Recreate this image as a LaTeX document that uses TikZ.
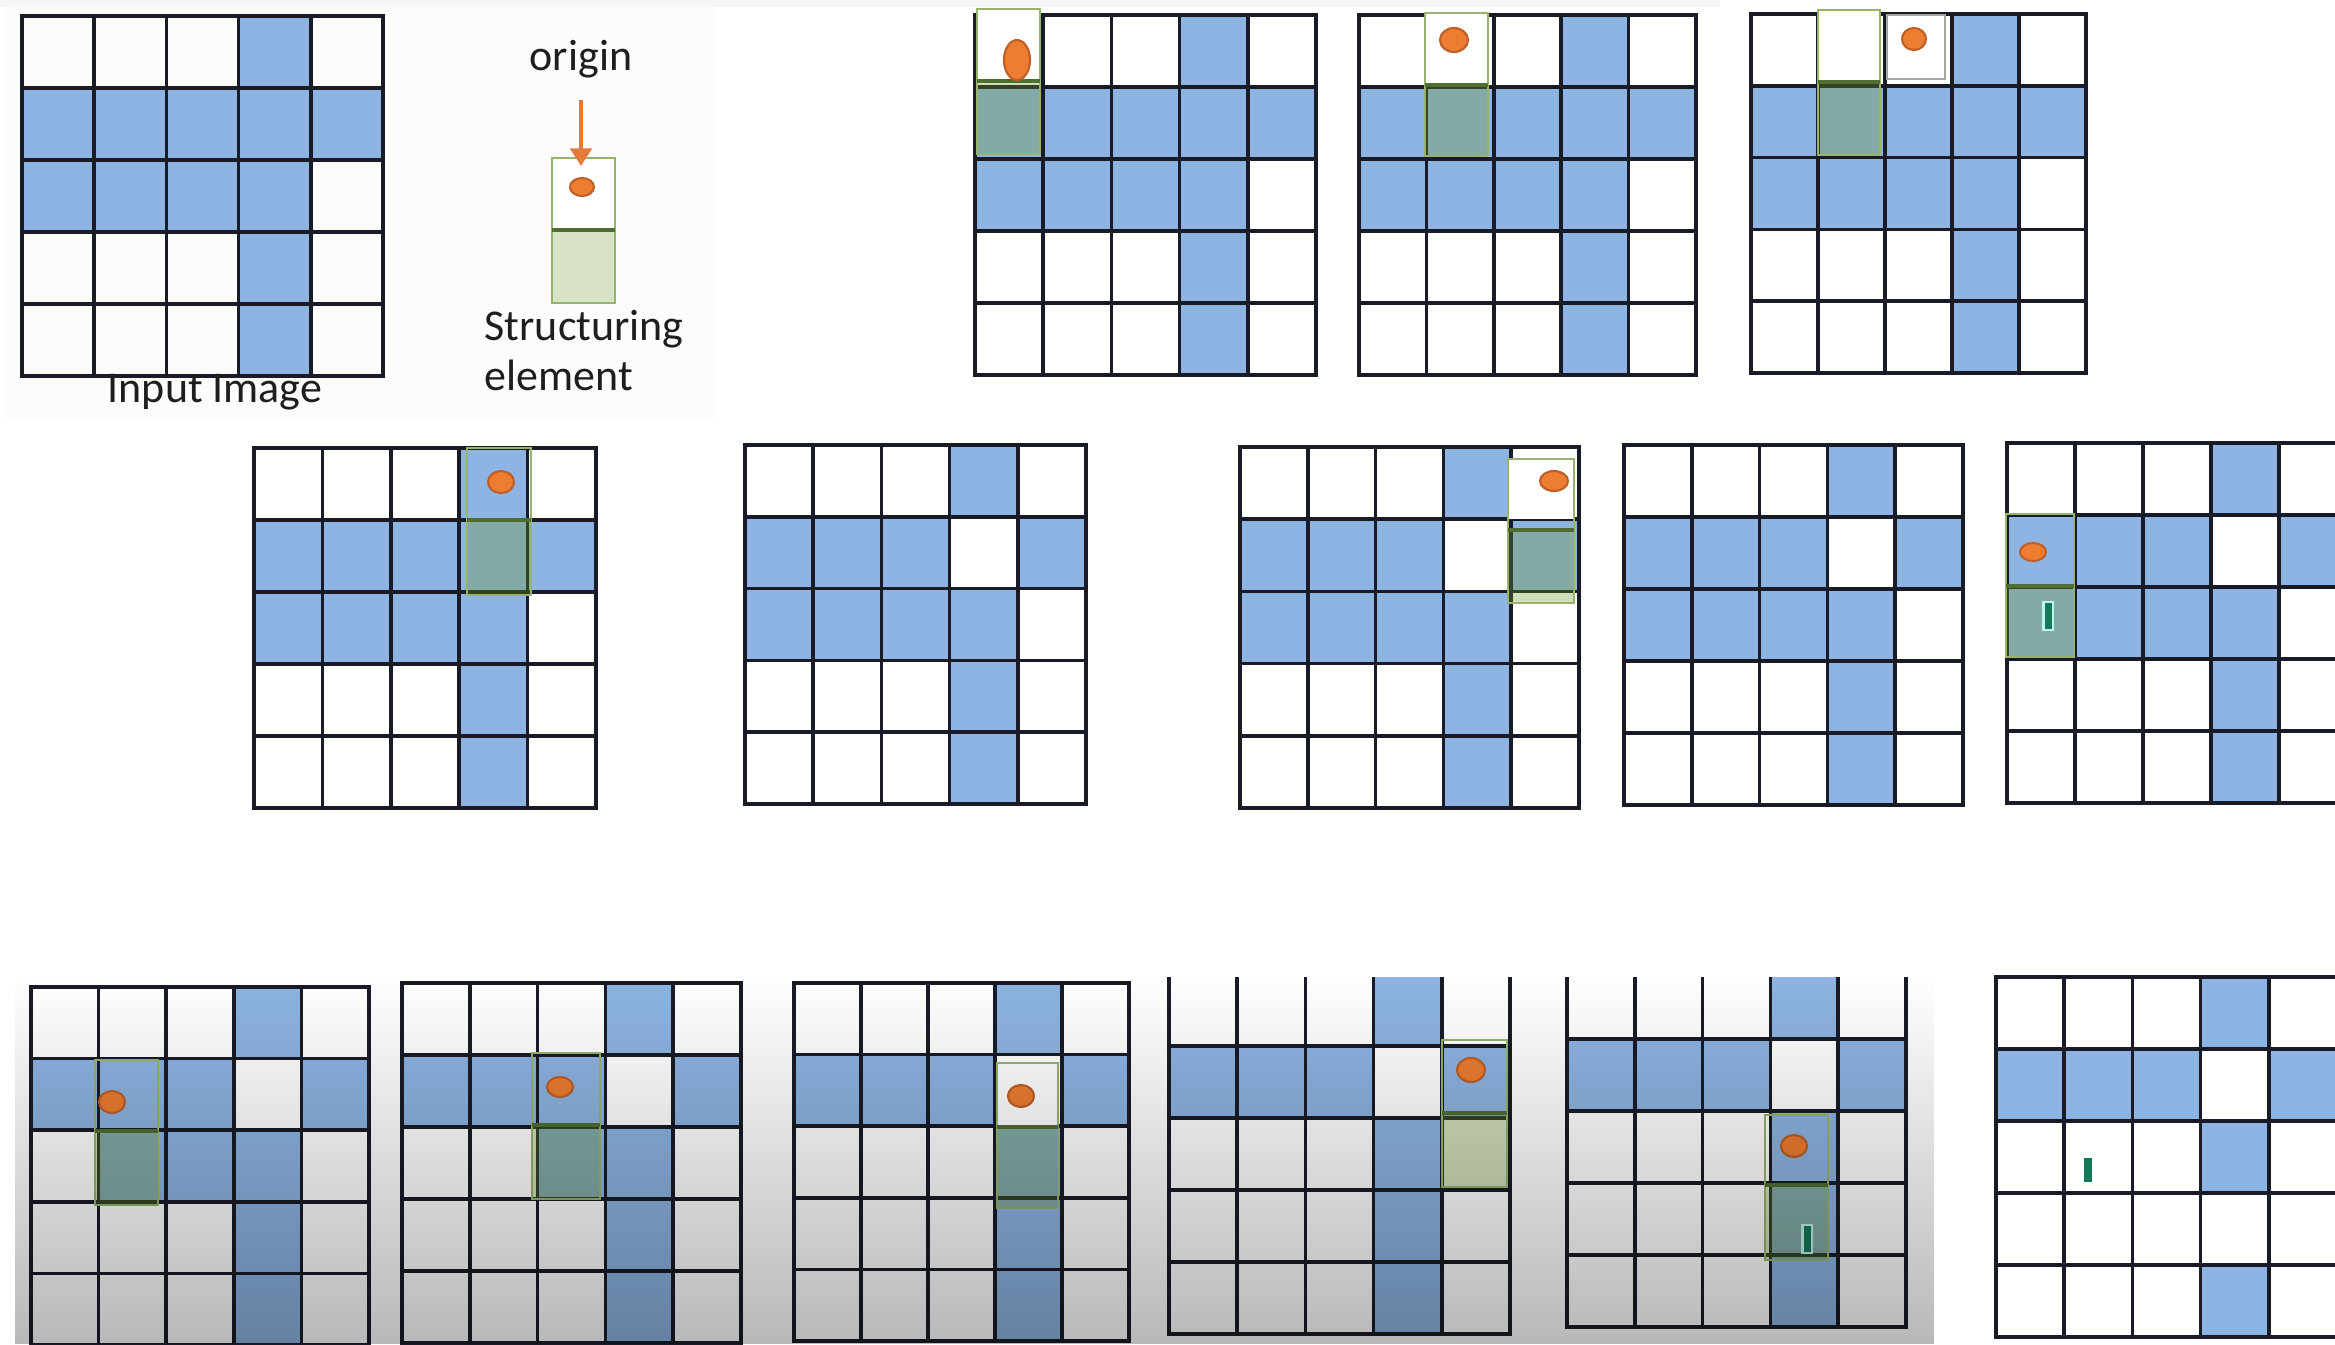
\documentclass[tikz,border=0pt]{standalone}
\usepackage{fontspec}
\setmainfont{Carlito}
\usetikzlibrary{arrows.meta,fadings}
\definecolor{cellblue}{RGB}{141,180,226}
\definecolor{gridc}{RGB}{25,28,38}
\definecolor{seedge}{RGB}{150,180,110}
\definecolor{sedark}{RGB}{80,110,50}
\definecolor{setint}{RGB}{110,150,40}
\definecolor{dotfill}{RGB}{237,125,49}
\definecolor{dotedge}{RGB}{190,95,40}
\definecolor{barc}{RGB}{20,120,90}
\definecolor{barglow}{RGB}{190,245,235}
\definecolor{txt}{RGB}{30,30,30}
\definecolor{arrowc}{RGB}{226,122,58}
\tikzset{
  gridline/.style={draw=gridc, line width=1pt, line cap=rect},
  seframe/.style={draw=seedge, line width=0.6pt},
  sediv/.style={draw=sedark, line width=1.1pt},
  setintfill/.style={fill=setint, opacity=0.32},
  dotstyle/.style={fill=dotfill, draw=dotedge, line width=0.6pt},
  lbl/.style={text=txt, font=\fontsize{12.5pt}{15pt}\selectfont, inner sep=0pt},
  origarrow/.style={draw=arrowc, line width=1.4pt, -{Triangle[length=5pt,width=6pt]}}
}
% grid: x0 y0 x1 y1 {list of row/col blue cells}
\newcommand\cellgrid[5]{%
  \pgfmathsetmacro\cgW{(#3-#1)/5}%
  \pgfmathsetmacro\cgH{(#4-#2)/5}%
  \foreach \ri/\ci in {#5}{%
    \fill[cellblue] ({#1+\ci*\cgW},{#2+\ri*\cgH}) rectangle ({#1+(\ci+1)*\cgW},{#2+(\ri+1)*\cgH});}%
  \foreach \ii in {0,...,5}{%
    \draw[gridline] ({#1+\ii*\cgW},#2) -- ({#1+\ii*\cgW},#4);
    \draw[gridline] (#1,{#2+\ii*\cgH}) -- (#3,{#2+\ii*\cgH});}%
}
% structuring element: x0 x1 ytop ymid ybot
\newcommand\secell[5]{%
  \fill[setintfill] (#1,#4) rectangle (#2,#5);
  \draw[seframe] (#1,#3) rectangle (#2,#5);
  \draw[sediv] (#1,#4) -- (#2,#4);
}
\newcommand\secellw[5]{%
  \fill[white] (#1,#3) rectangle (#2,#4);
  \secell{#1}{#2}{#3}{#4}{#5}%
}
\newcommand\origindot[4]{\fill[dotstyle] (#1,#2) ellipse [x radius=#3, y radius=#4];}
\newcommand\cursorbar[2]{%
  \fill[barglow] ({#1-6},{#2-15}) rectangle ({#1+6},{#2+15});
  \fill[barc] ({#1-3.5},{#2-13}) rectangle ({#1+3.5},{#2+13});
}
\begin{document}
\begin{tikzpicture}[x=0.01cm, y=-0.01cm]
\useasboundingbox (0,0) rectangle (2335,1344);
\clip (0,0) rectangle (2335,1344);
\fill[white] (0,0) rectangle (2335,1344);
\fill[black!4] (0,0) rectangle (1720,7);
\fill[black!1] (5,7) rectangle (715,418);

% ---------- Row 1 ----------
\cellgrid{22}{16}{383}{376}{0/3,1/0,1/1,1/2,1/3,1/4,2/0,2/1,2/2,2/3,3/3,4/3}
\node[lbl, anchor=base] (inputlbl) at (215,402) {Input Image};

% structuring element legend
\node[lbl, anchor=base] (orig) at (581,70) {origin};
\fill[white] (552,158) rectangle (615,230);
\fill[setint, opacity=0.25] (552,230) rectangle (615,303);
\draw[seframe] (552,158) rectangle (615,303);
\draw[sediv] (552,230) -- (615,230);
\origindot{582}{187}{12}{9}
\coordinate (arrtop) at (581,100);
\coordinate (arrtip) at (581,166);
\draw[origarrow] (arrtop) -- (arrtip);
\node[lbl, anchor=base west] (struct) at (484,340) {Structuring};
\node[lbl, anchor=base west] (elem) at (484,390) {element};

% A
\cellgrid{975}{15}{1316}{375}{0/3,1/0,1/1,1/2,1/3,1/4,2/0,2/1,2/2,2/3,3/3,4/3}
\secellw{977}{1040}{9}{81}{154}
\origindot{1017}{60}{13}{20}
% B
\cellgrid{1359}{15}{1696}{375}{0/3,1/0,1/1,1/2,1/3,1/4,2/0,2/1,2/2,2/3,3/3,4/3}
\secellw{1425}{1488}{13}{85}{156}
\origindot{1454}{40}{14}{12}
% C
\cellgrid{1751}{14}{2086}{373}{0/3,1/0,1/1,1/2,1/3,1/4,2/0,2/1,2/2,2/3,3/3,4/3}
\secellw{1818}{1880}{10}{82}{155}
\fill[white, draw=black!35, line width=0.5pt] (1887,15) rectangle (1945,79);
\origindot{1914}{39}{12}{11}

% ---------- Row 2 ----------
% D
\cellgrid{254}{448}{596}{808}{0/3,1/0,1/1,1/2,1/3,1/4,2/0,2/1,2/2,2/3,3/3,4/3}
\secell{467}{531}{448}{520}{595}
\origindot{501}{482}{13}{11}
% E
\cellgrid{745}{445}{1086}{804}{0/3,1/0,1/1,1/2,1/4,2/0,2/1,2/2,2/3,3/3,4/3}
% F
\cellgrid{1240}{447}{1579}{808}{0/3,1/0,1/1,1/2,1/4,2/0,2/1,2/2,2/3,3/3,4/3}
\fill[white] (1508,459) rectangle (1574,519);
\secell{1508}{1574}{459}{530}{603}
\origindot{1554}{481}{14}{10}
% G
\cellgrid{1624}{445}{1963}{805}{0/3,1/0,1/1,1/2,1/4,2/0,2/1,2/2,2/3,3/3,4/3}
% H
\cellgrid{2007}{443}{2347}{803}{0/3,1/0,1/1,1/2,1/4,2/0,2/1,2/2,2/3,3/3,4/3}
\secell{2006}{2074}{514}{586}{657}
\origindot{2033}{552}{13}{9}
\cursorbar{2048}{616}

% ---------- Row 3 ----------
% I
\cellgrid{31}{987}{369}{1345}{0/3,1/0,1/1,1/2,1/4,2/1,2/2,2/3,3/3,4/3}
\secell{95}{158}{1060}{1131}{1205}
\origindot{112}{1102}{13}{11}
% J
\cellgrid{402}{983}{741}{1343}{0/3,1/0,1/1,1/2,1/4,2/2,2/3,3/3,4/3}
\secell{532}{600}{1053}{1125}{1199}
\origindot{560}{1087}{13}{10}
% K
\cellgrid{794}{983}{1129}{1341}{0/3,1/0,1/1,1/2,1/4,2/3,3/3,4/3}
\secellw{997}{1058}{1063}{1127}{1208}
\origindot{1021}{1096}{13}{11}
% L and M (tops cropped)
\begin{scope}
\clip (1100,977) rectangle (1960,1344);
\cellgrid{1169}{974}{1510}{1334}{0/3,1/0,1/1,1/2,1/4,2/3,3/3,4/3}
\cellgrid{1567}{967}{1906}{1327}{0/3,1/0,1/1,1/2,1/4,2/3,3/3,4/3}
\end{scope}
\secell{1442}{1507}{1040}{1113}{1187}
\origindot{1471}{1070}{14}{12}
\secell{1765}{1828}{1115}{1185}{1260}
\origindot{1794}{1146}{13}{11}
\cursorbar{1807}{1239}

% shaded video panel
\fill[black, opacity=0.28, path fading=north] (15,976) rectangle (1934,1344);

% N
\cellgrid{1996}{977}{2337}{1337}{0/3,1/0,1/1,1/2,1/4,2/3,4/3}
\fill[barc] (2084,1158) rectangle (2092,1182);
\end{tikzpicture}
\end{document}
